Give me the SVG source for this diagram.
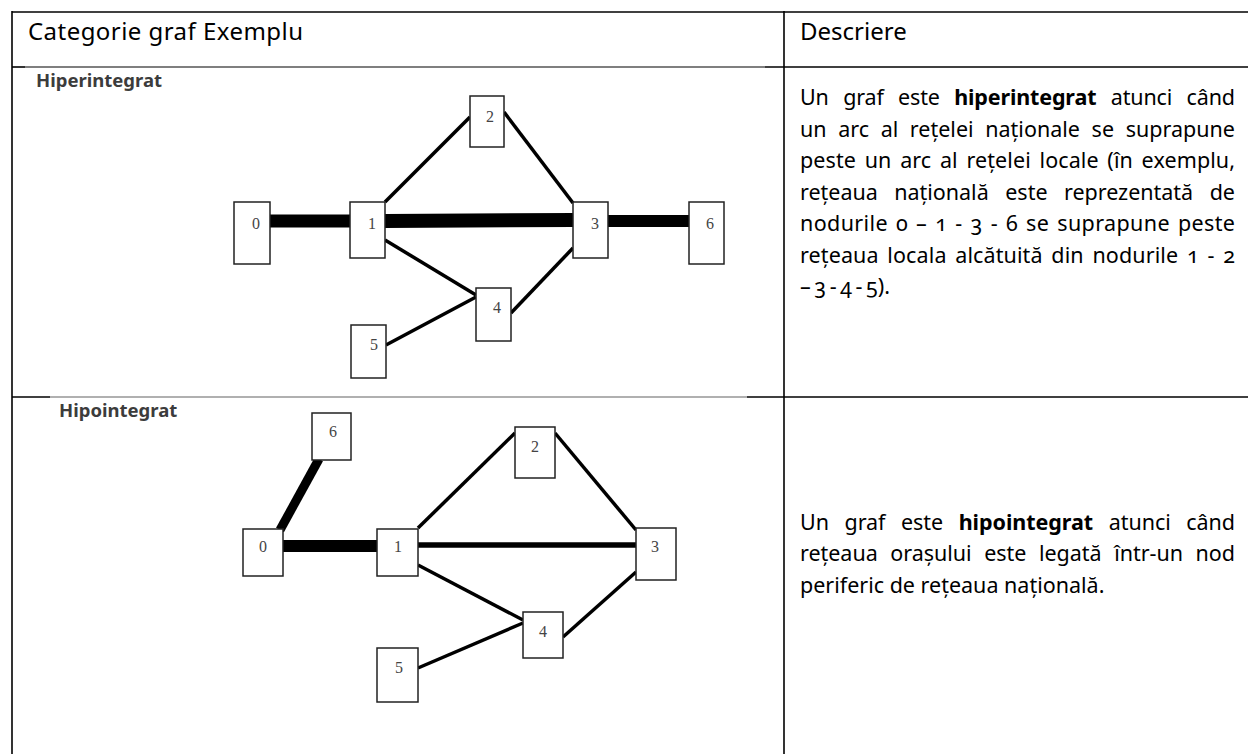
<svg xmlns="http://www.w3.org/2000/svg" width="1248" height="754" viewBox="0 0 1248 754">
<style>
.bg{fill:#fff}
.tb{stroke:#000;stroke-width:1.6;fill:none}
.tg1{stroke:#555;stroke-width:1.6}
.tg2{stroke:#b0b0b0;stroke-width:2}
.hd{font-family:"Noto Sans","Open Sans",sans-serif;font-size:24px;fill:#000}
.ds{font-family:"Noto Sans","Open Sans",sans-serif;font-size:21.5px;fill:#000;font-variant-numeric:oldstyle-nums}
.ds tspan.b{font-weight:bold}
.cat{font-family:"Noto Sans","Open Sans",sans-serif;font-size:18.5px;font-weight:bold;fill:#3c3c3c}
.nd rect{fill:#fff;stroke:#222;stroke-width:1.5}
.nd text{font-family:"Liberation Serif","Times New Roman",serif;font-size:16px;fill:#444;text-anchor:middle}
.e{stroke:#000;stroke-width:3.5;fill:none}
.thk{stroke:#000;fill:none}
</style>
<rect class="bg" x="0" y="0" width="1248" height="754"/>
<g id="table">
<line class="tb" x1="12" y1="12" x2="1248" y2="12"/>
<line class="tb" x1="12" y1="11" x2="12" y2="754"/>
<line class="tb" x1="784" y1="11" x2="784" y2="754"/>
<line class="tb" x1="12" y1="67" x2="25" y2="67"/>
<line class="tg1" x1="25" y1="67" x2="765" y2="67"/>
<line class="tb" x1="765" y1="67" x2="1248" y2="67"/>
<line class="tb" x1="12" y1="397" x2="50" y2="397"/>
<line class="tg2" x1="50" y1="397" x2="747" y2="397"/>
<line class="tb" x1="747" y1="397" x2="1248" y2="397"/>
</g>
<g id="headers">
<text class="hd" x="28" y="40" textLength="275" lengthAdjust="spacing">Categorie graf Exemplu</text>
<text class="hd" x="800" y="40">Descriere</text>
</g>
<g id="desc-hiper">
<text class="ds" x="800" y="105" textLength="435" lengthAdjust="spacing" style="word-spacing:9px">Un graf este <tspan class="b">hiperintegrat</tspan> atunci când</text>
<text class="ds" x="800" y="137" textLength="435" lengthAdjust="spacing" style="word-spacing:6px">un arc al rețelei naționale se suprapune</text>
<text class="ds" x="800" y="168" textLength="435" lengthAdjust="spacing" style="word-spacing:3px">peste un arc al rețelei locale (în exemplu,</text>
<text class="ds" x="800" y="200" textLength="435" lengthAdjust="spacing" style="word-spacing:11px">rețeaua națională este reprezentată de</text>
<text class="ds" x="800" y="231" textLength="435" lengthAdjust="spacing" style="word-spacing:2px">nodurile 0 – 1 - 3 - 6 se suprapune peste</text>
<text class="ds" x="800" y="263" textLength="435" lengthAdjust="spacing" style="word-spacing:3px">rețeaua locala alcătuită din nodurile 1 - 2</text>
<text class="ds" x="800" y="294" style="word-spacing:-2px">– 3 - 4 - 5).</text>
</g>
<g id="desc-hipo">
<text class="ds" x="800" y="530" textLength="435" lengthAdjust="spacing" style="word-spacing:10px">Un graf este <tspan class="b">hipointegrat</tspan> atunci când</text>
<text class="ds" x="800" y="561" textLength="435" lengthAdjust="spacing" style="word-spacing:7px">rețeaua orașului este legată într-un nod</text>
<text class="ds" x="800" y="593">periferic de rețeaua națională.</text>
</g>
<text class="cat" x="36" y="87">Hiperintegrat</text>
<text class="cat" x="59" y="417">Hipointegrat</text>
<g id="connectors">
<line class="thk" x1="270" y1="221" x2="350" y2="221" stroke-width="13"/>
<line class="thk" x1="385" y1="221" x2="573" y2="220" stroke-width="14"/>
<line class="thk" x1="608" y1="221" x2="689" y2="221" stroke-width="12"/>
<line class="e" x1="385" y1="202" x2="470" y2="117"/>
<line class="e" x1="504" y1="112" x2="573" y2="203"/>
<line class="e" x1="385" y1="240" x2="476" y2="295"/>
<line class="e" x1="573" y1="248" x2="511" y2="313"/>
<line class="e" x1="386" y1="345" x2="476" y2="297"/>
<line class="thk" x1="319" y1="459" x2="280" y2="530" stroke-width="9"/>
<line class="thk" x1="283" y1="546" x2="377" y2="546" stroke-width="12"/>
<line class="thk" x1="418" y1="545" x2="636" y2="545" stroke-width="5.5"/>
<line class="e" x1="418" y1="528" x2="515" y2="433"/>
<line class="e" x1="555" y1="433" x2="636" y2="530"/>
<line class="e" x1="418" y1="565" x2="523" y2="620"/>
<line class="e" x1="636" y1="572" x2="563" y2="637"/>
<line class="e" x1="418" y1="668" x2="523" y2="623"/>
</g>
<g id="hiper-n0" class="nd"><rect x="234" y="202" width="36" height="62"/><text x="256" y="229">0</text></g>
<g id="hiper-n1" class="nd"><rect x="350" y="202" width="35" height="56"/><text x="372" y="229">1</text></g>
<g id="hiper-n2" class="nd"><rect x="470" y="96" width="34" height="51"/><text x="490" y="122">2</text></g>
<g id="hiper-n3" class="nd"><rect x="573" y="202" width="35" height="56"/><text x="595" y="229">3</text></g>
<g id="hiper-n6" class="nd"><rect x="689" y="202" width="35" height="62"/><text x="710" y="229">6</text></g>
<g id="hiper-n4" class="nd"><rect x="476" y="288" width="35" height="53"/><text x="497" y="313">4</text></g>
<g id="hiper-n5" class="nd"><rect x="351" y="325" width="35" height="53"/><text x="374" y="350">5</text></g>
<g id="hipo-n6" class="nd"><rect x="312" y="413" width="39" height="47"/><text x="333" y="437">6</text></g>
<g id="hipo-n0" class="nd"><rect x="243" y="529" width="40" height="47"/><text x="263" y="552">0</text></g>
<g id="hipo-n1" class="nd"><rect x="377" y="529" width="41" height="47"/><text x="398" y="552">1</text></g>
<g id="hipo-n2" class="nd"><rect x="515" y="427" width="40" height="51"/><text x="535" y="452">2</text></g>
<g id="hipo-n3" class="nd"><rect x="636" y="528" width="40" height="52"/><text x="655" y="552">3</text></g>
<g id="hipo-n4" class="nd"><rect x="523" y="612" width="40" height="46"/><text x="543" y="637">4</text></g>
<g id="hipo-n5" class="nd"><rect x="377" y="648" width="41" height="54"/><text x="399" y="673">5</text></g>
</svg>
